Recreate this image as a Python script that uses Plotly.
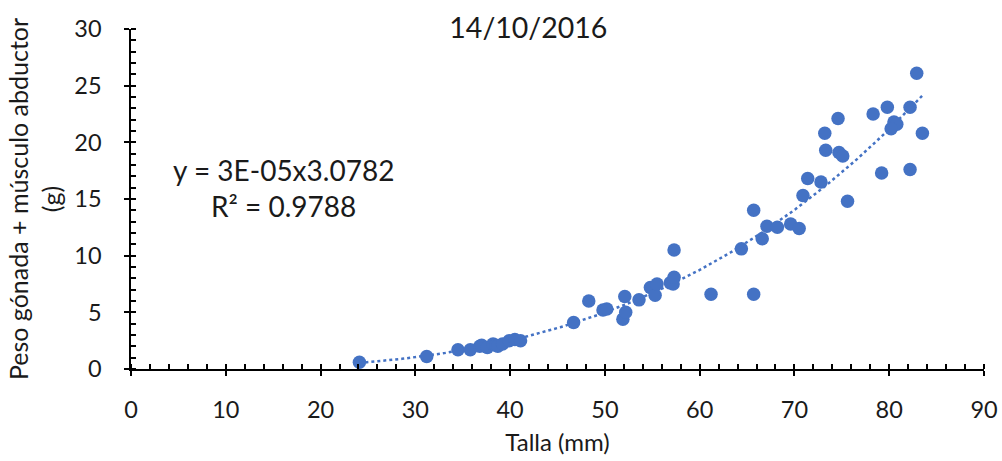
import numpy as np
import plotly.graph_objects as go

talla = [24.1, 31.2, 34.5, 35.8, 36.8, 37.0, 37.6, 38.2, 38.5, 38.7, 39.2, 39.9, 40.5, 41.1,
         46.7, 48.3, 49.8, 50.2, 51.9, 52.2, 52.1, 53.6, 54.8, 55.3, 55.5, 56.9, 57.2, 57.3,
         57.3, 61.2, 65.7, 64.4, 66.6, 65.7, 67.1, 68.2, 69.6, 70.5, 70.9, 71.4, 72.8, 75.6,
         82.9, 79.8, 78.3, 82.2, 74.6, 73.2, 80.5, 80.8, 80.2, 83.5, 73.3, 74.7, 75.1, 79.2, 82.2]
peso = [0.6, 1.1, 1.7, 1.7, 2.0, 2.1, 1.9, 2.2, 2.1, 2.0, 2.2, 2.5, 2.6, 2.5,
        4.1, 6.0, 5.2, 5.3, 4.4, 5.0, 6.4, 6.1, 7.2, 6.5, 7.5, 7.6, 7.5, 8.1,
        10.5, 6.6, 6.6, 10.6, 11.5, 14.0, 12.6, 12.5, 12.8, 12.4, 15.3, 16.8, 16.5, 14.8,
        26.1, 23.1, 22.5, 23.1, 22.1, 20.8, 21.8, 21.6, 21.2, 20.8, 19.3, 19.1, 18.8, 17.3, 17.6]

title_text = "14/10/2016"
x_title = "Talla (mm)"
y_title = "Peso gónada + músculo abductor<br>(g)"
eq_text = "y = 3E-05x3.0782<br>R² = 0.9788"

# power-law trendline (least squares in log space, as the spreadsheet does)
b, lna = np.polyfit(np.log(talla), np.log(peso), 1)
xt = np.linspace(min(talla), max(talla), 200)
yt = np.exp(lna) * xt ** b

BLUE = "#4472C4"
FONT = "Lato"
TXT = "#1a1a1a"

fig = go.Figure()
fig.add_trace(go.Scatter(x=xt, y=yt, mode="lines",
                         line=dict(color=BLUE, width=2.5, dash="dot"),
                         hoverinfo="skip", showlegend=False))
fig.add_trace(go.Scatter(x=talla, y=peso, mode="markers",
                         marker=dict(color=BLUE, size=13.5, line=dict(width=0)),
                         showlegend=False))
# helper trace to carry the inner half of the crossing major ticks
fig.add_trace(go.Scatter(x=[0], y=[0], xaxis="x2", yaxis="y2", mode="markers",
                         marker=dict(opacity=0), hoverinfo="skip", showlegend=False))

axis_common = dict(showgrid=False, zeroline=False, showline=True, linecolor="black",
                   linewidth=1.5, ticks="outside", ticklen=5, tickwidth=1.5, automargin=False,
                   tickcolor="black", tickfont=dict(family=FONT, size=23.5, color=TXT))

fig.update_layout(
    width=1002, height=461,
    margin=dict(l=131, r=18, t=29, b=92),
    paper_bgcolor="white", plot_bgcolor="white",
    title=dict(text=title_text, x=0.5273, xanchor="center", y=0.94, yanchor="middle",
               font=dict(family=FONT, size=28.5, color=TXT), automargin=False),
    xaxis=dict(range=[0, 90], tick0=0, dtick=10, ticklabelstandoff=14,
               minor=dict(ticks="inside", dtick=2, ticklen=5, tickwidth=1.5, tickcolor="black"),
               title=dict(text=x_title, font=dict(family=FONT, size=24, color=TXT), standoff=12),
               **axis_common),
    yaxis=dict(range=[0, 30], tick0=0, dtick=5, ticklabelstandoff=18,
               minor=dict(ticks="inside", dtick=1, ticklen=5, tickwidth=1.5, tickcolor="black"),
               title=dict(text=y_title, font=dict(family=FONT, size=25, color=TXT), standoff=6),
               **axis_common),
    xaxis2=dict(overlaying="x", matches="x", range=[0, 90], dtick=10, ticks="inside",
                ticklen=5, tickwidth=1.5, tickcolor="black", showticklabels=False, automargin=False,
                showgrid=False, zeroline=False, showline=False, anchor="y2", side="bottom"),
    yaxis2=dict(overlaying="y", matches="y", range=[0, 30], dtick=5, ticks="inside",
                ticklen=5, tickwidth=1.5, tickcolor="black", showticklabels=False, automargin=False,
                showgrid=False, zeroline=False, showline=False, anchor="x2", side="left"),
    annotations=[dict(text=eq_text, x=0.179, xref="paper", y=0.532, yref="paper",
                      xanchor="center", yanchor="middle", showarrow=False, align="center",
                      font=dict(family=FONT, size=28, color=TXT))],
)

fig.write_html("out.html")
